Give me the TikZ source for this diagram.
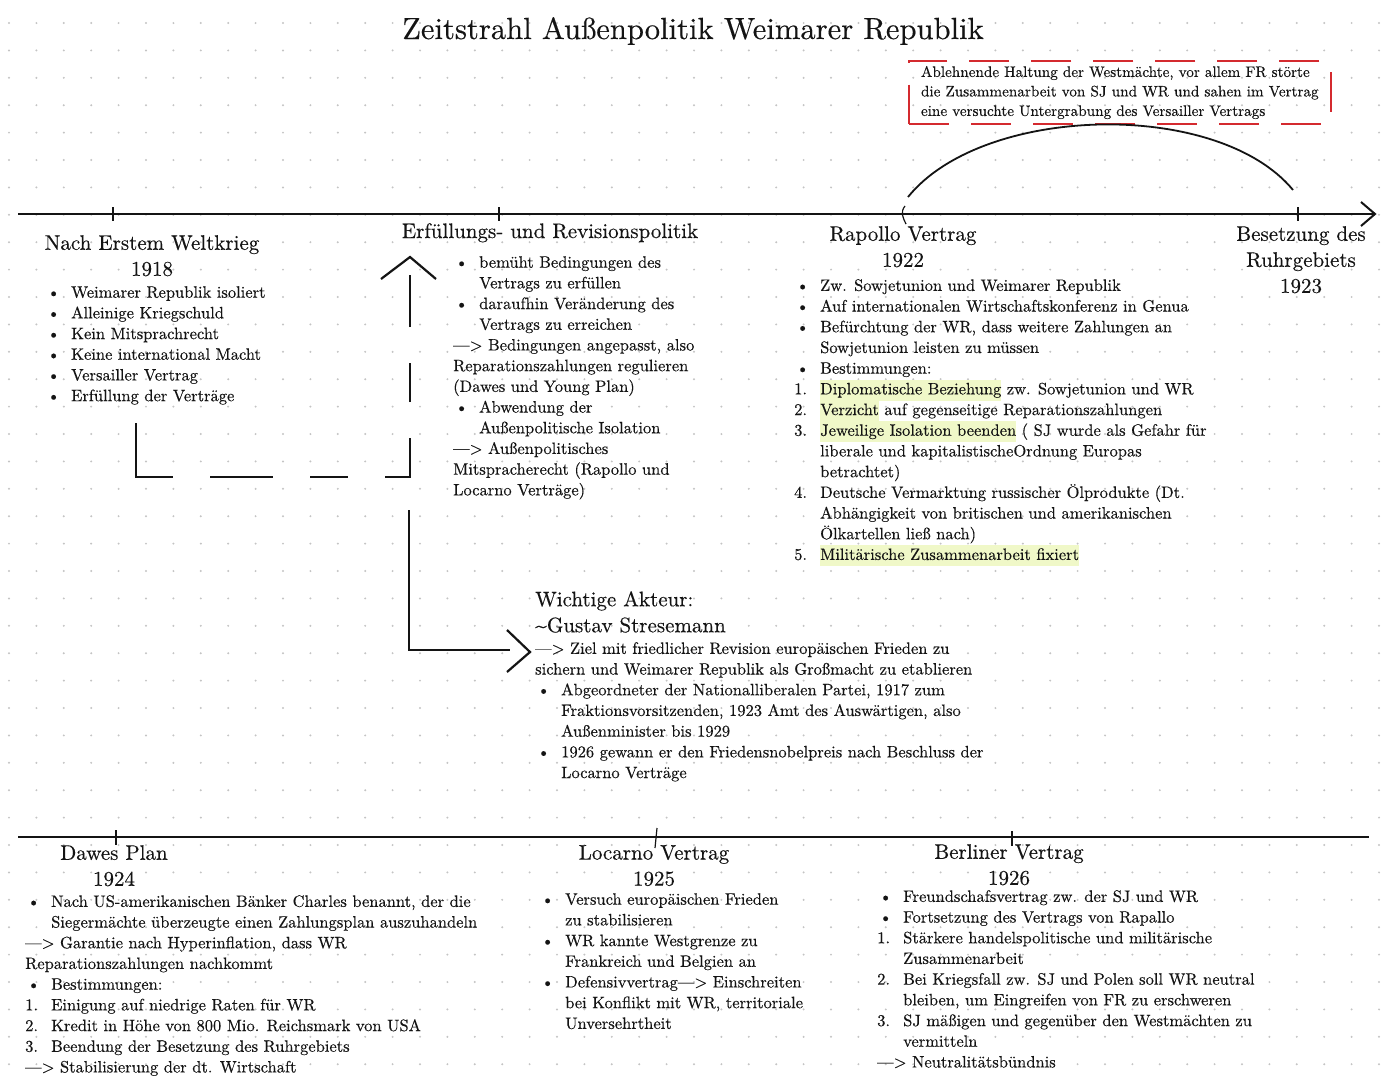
\documentclass[tikz,border=0pt]{standalone}
\usepackage{fontspec}
\setmainfont{lmroman10-regular.otf}[FakeBold=0.3]
\usepackage{tikz}
\usepackage{xcolor}
\usetikzlibrary{positioning}
\definecolor{NoteRed}{HTML}{D42A2F}
\definecolor{MarkGreen}{HTML}{F0F8C8}
\definecolor{GridDot}{HTML}{C4C4C4}
\definecolor{InkBlack}{HTML}{141414}
\newcommand{\bulitem}{\hspace*{2pt}\makebox[24pt][l]{\textbullet}}
\newcommand{\numitem}[1]{\makebox[26pt][l]{#1.}}
\newcommand{\contitem}{\hspace*{26pt}}
\newcommand{\marktext}[1]{{\setlength{\fboxsep}{0pt}\colorbox{MarkGreen}{\strut#1}}}

\begin{document}
\begin{tikzpicture}[
    x=1pt, y=-1pt,
    heading/.style={inner sep=0pt, anchor=north, align=center,
                 font=\fontsize{21}{26}\selectfont, text=InkBlack},
    bodytext/.style={inner sep=0pt, anchor=north west, align=left,
                 font=\fontsize{16.5}{20.7}\selectfont, text=InkBlack},
    notetext/.style={bodytext, font=\fontsize{15.2}{19.5}\selectfont,
                 draw=NoteRed, line width=2pt, dash pattern=on 40pt off 22pt,
                 inner xsep=12pt, inner ysep=5pt},
    timeline/.style={line width=2pt, draw=InkBlack},
    tickmark/.style={line width=1.2pt, draw=InkBlack},
    flowline/.style={line width=2.2pt, draw=InkBlack}
]
\useasboundingbox (0,0) rectangle (1394,1080);
\fill[white] (0,0) rectangle (1394,1080);
% dot grid
\foreach \gx in {0,...,50}{
  \foreach \gy in {0,...,39}{
    \fill[GridDot] (9+27.4*\gx,23+27.4*\gy) circle (1.1pt);
  }
}

\node[inner sep=0pt, anchor=base, font=\fontsize{30.6}{36}\selectfont, text=InkBlack]
  (title) at (693,39) {Zeitstrahl Außenpolitik Weimarer Republik};

% upper timeline
\coordinate (axL) at (18,214);
\coordinate (axR) at (1375,214);
\coordinate (tWk) at (113,214);
\coordinate (tErf) at (499,214);
\coordinate (tRap) at (903,214);
\coordinate (tRuhr) at (1298,214);
\draw[timeline] (axL) -- (axR);
\draw[timeline] (axR) ++(-14,-12) -- (axR) -- ++(-14,12);
\foreach \tk in {tWk,tErf,tRuhr}
  \draw[tickmark] (\tk) ++(0,-7) -- ++(0,14);
\draw[tickmark] (tRap) ++(2,-8) .. controls ++(-5,6) and ++(-3,-6) .. ++(1,18);

% lower timeline
\coordinate (bxL) at (18,837);
\coordinate (bxR) at (1369,837);
\coordinate (tDaw) at (116,837);
\coordinate (tLoc) at (656,837);
\coordinate (tBer) at (1012,837);
\draw[timeline] (bxL) -- (bxR);
\draw[tickmark] (tDaw) ++(0,-7) -- ++(0,15);
\draw[tickmark] (tLoc) ++(1,-9) -- ++(-2,20);
\draw[tickmark] (tBer) ++(0,-6) -- ++(0,15);

% headings
\node[heading] (hWk) at (152,235) {Nach Erstem Weltkrieg\\1918};
\node[heading] (hErf) at (550,223) {Erfüllungs- und Revisionspolitik};
\node[heading] (hRap) at (903,226) {Rapollo Vertrag\\1922};
\node[heading] (hRuhr) at (1301,226) {Besetzung des\\Ruhrgebiets\\1923};
\node[heading, anchor=north west, align=left] (hAkt) at (535,591)
  {Wichtige Akteur:\\\textasciitilde Gustav Stresemann};
\node[heading] (hDaw) at (114,845) {Dawes Plan\\1924};
\node[heading] (hLoc) at (654,845) {Locarno Vertrag\\1925};
\node[heading] (hBer) at (1009,844) {Berliner Vertrag\\1926};

% text blocks
\node[bodytext] (lWk) at (45,286) {%
  \bulitem Weimarer Republik isoliert\\
  \bulitem Alleinige Kriegschuld\\
  \bulitem Kein Mitsprachrecht\\
  \bulitem Keine international Macht\\
  \bulitem Versailler Vertrag\\
  \bulitem Erfüllung der Verträge};
\node[bodytext] (lErf) at (453,256) {%
  \bulitem bemüht Bedingungen des\\
  \contitem Vertrags zu erfüllen\\
  \bulitem daraufhin Veränderung des\\
  \contitem Vertrags zu erreichen\\
  —> Bedingungen angepasst, also\\
  Reparationszahlungen regulieren\\
  (Dawes und Young Plan)\\
  \bulitem Abwendung der\\
  \contitem Außenpolitische Isolation\\
  —> Außenpolitisches\\
  Mitspracherecht (Rapollo und\\
  Locarno Verträge)};
\node[bodytext] (lRap) at (794,279) {%
  \bulitem Zw. Sowjetunion und Weimarer Republik\\
  \bulitem Auf internationalen Wirtschaftskonferenz in Genua\\
  \bulitem Befürchtung der WR, dass weitere Zahlungen an\\
  \contitem Sowjetunion leisten zu müssen\\
  \bulitem Bestimmungen:\\
  \numitem{1}\marktext{Diplomatische Beziehung} zw. Sowjetunion und WR\\
  \numitem{2}\marktext{Verzicht} auf gegenseitige Reparationszahlungen\\
  \numitem{3}\marktext{Jeweilige Isolation beenden} ( SJ wurde als Gefahr für\\
  \contitem liberale und kapitalistischeOrdnung Europas\\
  \contitem betrachtet)\\
  \numitem{4}Deutsche Vermarktung russischer Ölprodukte (Dt.\\
  \contitem Abhängigkeit von britischen und amerikanischen\\
  \contitem Ölkartellen ließ nach)\\
  \numitem{5}\marktext{Militärische Zusammenarbeit fixiert}};
\node[bodytext] (lStr) at (535,642) {%
  —> Ziel mit friedlicher Revision europäischen Frieden zu\\
  sichern und Weimarer Republik als Großmacht zu etablieren\\
  \bulitem Abgeordneter der Nationalliberalen Partei, 1917 zum\\
  \contitem Fraktionsvorsitzenden, 1923 Amt des Auswärtigen, also\\
  \contitem Außenminister bis 1929\\
  \bulitem 1926 gewann er den Friedensnobelpreis nach Beschluss der\\
  \contitem Locarno Verträge};
\node[notetext] (westNote) at (908,60) {%
  Ablehnende Haltung der Westmächte, vor allem FR störte\\
  die Zusammenarbeit von SJ und WR und sahen im Vertrag\\
  eine versuchte Untergrabung des Versailler Vertrags};
\node[bodytext] (lDaw) at (25,895) {%
  \bulitem Nach US-amerikanischen Bänker Charles benannt, der die\\
  \contitem Siegermächte überzeugte einen Zahlungsplan auszuhandeln\\
  —> Garantie nach Hyperinflation, dass WR\\
  Reparationszahlungen nachkommt\\
  \bulitem Bestimmungen:\\
  \numitem{1}Einigung auf niedrige Raten für WR\\
  \numitem{2}Kredit in Höhe von 800 Mio. Reichsmark von USA\\
  \numitem{3}Beendung der Besetzung des Ruhrgebiets\\
  —> Stabilisierung der dt. Wirtschaft};
\node[bodytext] (lLoc) at (539,893) {%
  \bulitem Versuch europäischen Frieden\\
  \contitem zu stabilisieren\\
  \bulitem WR kannte Westgrenze zu\\
  \contitem Frankreich und Belgien an\\
  \bulitem Defensivvertrag—> Einschreiten\\
  \contitem bei Konflikt mit WR, territoriale\\
  \contitem Unversehrtheit};
\node[bodytext] (lBer) at (877,890) {%
  \bulitem Freundschafsvertrag zw. der SJ und WR\\
  \bulitem Fortsetzung des Vertrags von Rapallo\\
  \numitem{1}Stärkere handelspolitische und militärische\\
  \contitem Zusammenarbeit\\
  \numitem{2}Bei Kriegsfall zw. SJ und Polen soll WR neutral\\
  \contitem bleiben, um Eingreifen von FR zu erschweren\\
  \numitem{3}SJ mäßigen und gegenüber den Westmächten zu\\
  \contitem vermitteln\\
  —> Neutralitätsbündnis};

% arc from Rapollo to Ruhr
\draw[flowline, line width=1.8pt] (tRap) ++(5,-17)
  .. controls ++(75,-93) and ++(-75,-91) .. ([shift={(-5,-24)}]tRuhr);

% dashed path from 1918 to Erfuellungspolitik
\coordinate (dashA) at (136,423);
\coordinate (dashB) at (136,477);
\coordinate (dashC) at (410,477);
\coordinate (dashD) at (410,275);
\coordinate (dashTip) at (410,257);
\draw[flowline, dash pattern=on 91pt off 37pt on 63pt off 37pt on 38pt off 37pt on 64pt off 36pt on 39pt off 36pt on 52pt off 20pt]
  (dashA) -- (dashB) -- (dashC) -- (dashD);
\draw[flowline] (dashTip) ++(-29,22) -- (dashTip) -- ++(26,22);

% path to Stresemann
\coordinate (joinA) at (409,510);
\coordinate (joinB) at (409,650);
\coordinate (joinC) at (510,650);
\coordinate (joinTip) at (530,652);
\draw[flowline] (joinA) -- (joinB) -- (joinC);
\draw[flowline] (joinTip) ++(-23,-22) -- (joinTip) -- ++(-23,20);
\end{tikzpicture}
\end{document}
